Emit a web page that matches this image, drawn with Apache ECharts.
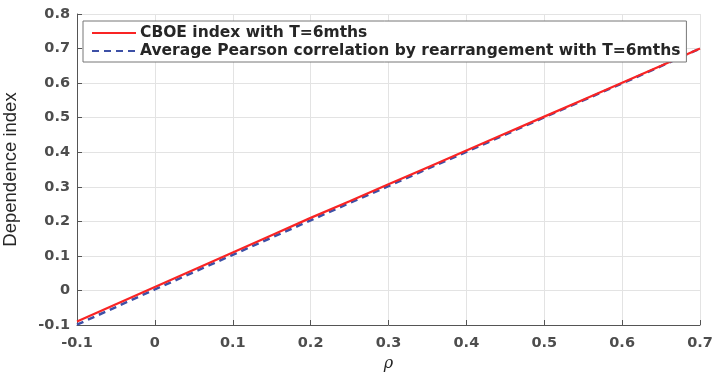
<!DOCTYPE html>
<html>
<head>
<meta charset="utf-8">
<title>Dependence index</title>
<script src="https://cdn.jsdelivr.net/npm/echarts@6/dist/echarts.min.js"></script>
<style>
  html, body { margin: 0; padding: 0; background: #fff; }
</style>
</head>
<body>
<div id="main" style="width:714px;height:372px;"></div>
<script>
// rho values on the x axis
var rho = [-0.1, -0.05, 0, 0.05, 0.1, 0.15, 0.2, 0.25, 0.3, 0.35, 0.4, 0.45, 0.5, 0.55, 0.6, 0.65, 0.7];
// CBOE index with T=6mths
var cboe = [-0.09, -0.04, 0.01, 0.06, 0.11, 0.16, 0.21, 0.258, 0.307, 0.356, 0.405, 0.454, 0.503, 0.552, 0.601, 0.65, 0.70];
// Average Pearson correlation by rearrangement
var pearson = [-0.099, -0.048, 0.003, 0.053, 0.103, 0.153, 0.203, 0.253, 0.302, 0.352, 0.401, 0.451, 0.501, 0.55, 0.599, 0.649, 0.70];
var seriesNames = ['CBOE index with T=6mths', 'Average Pearson correlation by rearrangement with T=6mths'];

function pairs(xs, ys) {
    return xs.map(function (x, i) { return [x, ys[i]]; });
}

var labelStyle = { color: '#4d4d4d', fontSize: 14.5, fontWeight: 'bold', fontFamily: 'DejaVu Sans, sans-serif' };

var myChart = echarts.init(document.getElementById('main'));
var option = {
    animation: false,
    grid: { left: 77, right: 14, top: 14, bottom: 47, containLabel: false, outerBoundsMode: 'none' },
    legend: {
        orient: 'vertical',
        left: 83,
        top: 21,
        itemWidth: 44,
        itemHeight: 12,
        itemGap: 2,
        padding: [4, 6, 3, 8],
        borderColor: '#777',
        borderWidth: 1,
        borderRadius: 0,
        backgroundColor: '#fff',
        itemStyle: { opacity: 0 },
        textStyle: { color: '#262626', fontSize: 15.5, lineHeight: 15, fontWeight: 'bold', fontFamily: 'DejaVu Sans, sans-serif', padding: [0, 0, 0, -1] },
        data: seriesNames
    },
    xAxis: {
        type: 'value',
        min: -0.1, max: 0.7, interval: 0.1,
        name: 'ρ',
        nameLocation: 'middle',
        nameGap: 31,
        nameTextStyle: { fontStyle: 'italic', fontSize: 16, color: '#222', fontFamily: 'DejaVu Serif, serif' },
        axisLine: { show: true, onZero: false, lineStyle: { color: '#555', width: 1 } },
        axisTick: { show: true, inside: true, length: 5, lineStyle: { color: '#555' } },
        axisLabel: Object.assign({ margin: 11, formatter: function (v) { return +v.toFixed(1) + ''; } }, labelStyle),
        splitLine: { show: true, lineStyle: { color: '#e3e3e3', width: 1 } }
    },
    yAxis: {
        type: 'value',
        min: -0.1, max: 0.8, interval: 0.1,
        name: 'Dependence index',
        nameLocation: 'middle',
        nameGap: 57,
        nameTextStyle: { fontSize: 18.5, color: '#262626', fontFamily: 'Liberation Sans, Arial, sans-serif' },
        axisLine: { show: true, onZero: false, lineStyle: { color: '#555', width: 1 } },
        axisTick: { show: true, inside: true, length: 5, lineStyle: { color: '#555' } },
        axisLabel: Object.assign({ margin: 7, formatter: function (v) { return +v.toFixed(1) + ''; } }, labelStyle),
        splitLine: { show: true, lineStyle: { color: '#e3e3e3', width: 1 } }
    },
    series: [
        {
            name: seriesNames[1],
            type: 'line',
            data: pairs(rho, pearson),
            symbol: 'none',
            z: 2,
            lineStyle: { color: '#3d50a6', width: 2.5, type: [7, 5] },
            itemStyle: { color: '#3d50a6' }
        },
        {
            name: seriesNames[0],
            type: 'line',
            data: pairs(rho, cboe),
            symbol: 'none',
            z: 3,
            lineStyle: { color: '#f92424', width: 2.2 },
            itemStyle: { color: '#f92424' }
        }
    ]
};
myChart.setOption(option);
</script>
</body>
</html>
